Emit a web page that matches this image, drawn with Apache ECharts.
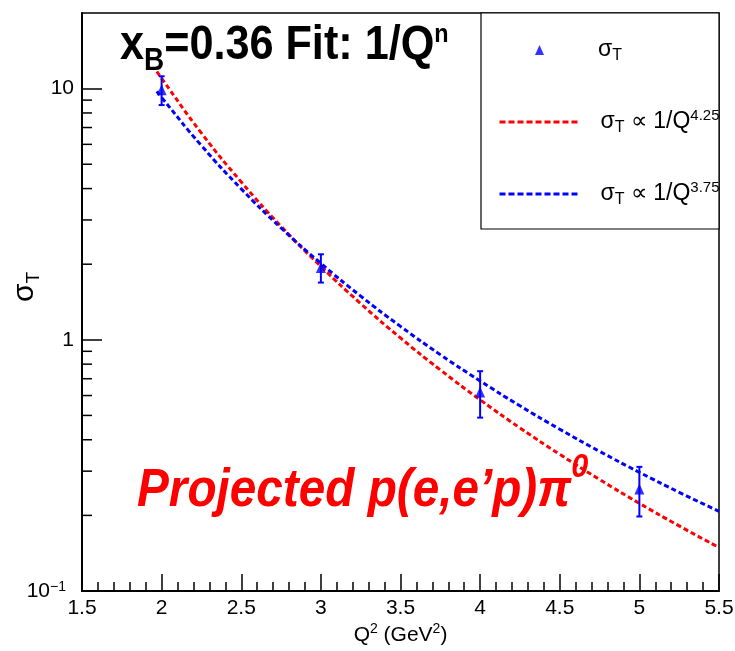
<!DOCTYPE html>
<html><head><meta charset="utf-8">
<script src="https://cdn.jsdelivr.net/npm/echarts@6/dist/echarts.min.js"></script>
<style>html,body{margin:0;padding:0;background:#fff}#c{width:735px;height:651px}</style>
</head><body><div id="c"></div>
<script>
// Data points (Q^2 in GeV^2, sigma_T)
const Q2 = [2, 3, 4, 5];
const sigmaT = [9.9, 1.94, 0.62, 0.255];
const sigmaErr = [1.3, 0.25, 0.13, 0.057];
// Fit curves
const fitQ2 = [1.97, 2.0, 2.25, 2.5, 2.75, 3.0, 3.25, 3.5, 3.75, 4.0, 4.25, 4.5, 4.75, 5.0, 5.25, 5.5];
const fitN425 = [11.7, 10.98, 6.65, 4.25, 2.83, 1.96, 1.394, 1.017, 0.759, 0.577, 0.446, 0.350, 0.278, 0.2234, 0.1816, 0.149];
const fitN375 = [9.76, 9.22, 5.93, 3.99, 2.79, 2.015, 1.493, 1.131, 0.873, 0.686, 0.546, 0.4406, 0.3597, 0.2968, 0.2471, 0.2076];
// Axis tick values
const yMinorTicks = [0.2, 0.3, 0.4, 0.5, 0.6, 0.7, 0.8, 0.9, 2, 3, 4, 5, 6, 7, 8, 9];
const legendLabels = {
  sigT: '{s0|σ}{sub|T}',
  fit425: '{s0|σ}{sub|T}{s| ∝ 1/Q}{sup|4.25}',
  fit375: '{s0|σ}{sub|T}{s| ∝ 1/Q}{sup|3.75}'
};
const titleText = '{b|x}{sub|B}{b|=0.36 Fit: 1/Q}{sup|n}';
const noteText = '{m|Projected p(e,e’p)π}{sup|0}';

const FONT = 'Liberation Sans, Arial, Helvetica, sans-serif';
const chart = echarts.init(document.getElementById('c'), null, {renderer: 'canvas'});

const legendRich = (padLeft) => ({
  s0: {fontSize: 23, fontFamily: FONT, color: '#000', lineHeight: 28, padding: [0, 0, 0, padLeft]},
  s: {fontSize: 23, fontFamily: FONT, color: '#000', lineHeight: 28},
  sub: {fontSize: 16, fontFamily: FONT, color: '#000', lineHeight: 16, padding: [12, 0, 0, 0], verticalAlign: 'top'},
  sup: {fontSize: 15, fontFamily: FONT, color: '#000', lineHeight: 10, verticalAlign: 'top'}
});

const option = {
  animation: false,
  backgroundColor: '#fff',
  grid: {left: 82, right: 16, top: 13, bottom: 60, show: true, borderColor: '#000', borderWidth: 1.5,
         backgroundColor: 'transparent', containLabel: false, outerBoundsMode: 'none'},
  xAxis: {
    type: 'value', min: 1.5, max: 5.5, interval: 0.5,
    axisLine: {show: true, onZero: false, lineStyle: {color: '#000', width: 2}},
    axisTick: {show: true, inside: true, length: 17, lineStyle: {color: '#000', width: 1.5}},
    minorTick: {show: true, splitNumber: 5, length: 9, lineStyle: {color: '#000', width: 1.5}},
    splitLine: {show: false},
    axisLabel: {color: '#000', fontSize: 21, margin: 7, fontFamily: FONT, showMinLabel: true, showMaxLabel: true,
                formatter: v => String(v)},
    name: '{a|Q}{s|2}{a| (GeV}{s|2}{a|)}', nameLocation: 'middle', nameGap: 31, nameMoveOverlap: false,
    nameTextStyle: {rich: {
      a: {fontSize: 21, fontFamily: FONT, color: '#000', lineHeight: 24, verticalAlign: 'bottom'},
      s: {fontSize: 14, fontFamily: FONT, color: '#000', lineHeight: 14, verticalAlign: 'top'}
    }}
  },
  yAxis: {
    type: 'log', logBase: 10, min: 0.1, max: 20,
    axisLine: {show: true, onZero: false, lineStyle: {color: '#000', width: 2}},
    axisTick: {show: true, inside: true, length: 20, lineStyle: {color: '#000', width: 1.5}},
    minorTick: {show: false}, splitLine: {show: false},
    axisLabel: {color: '#000', fontSize: 21, margin: 8, fontFamily: FONT, showMaxLabel: false,
      formatter: v => {
        const e = Math.round(Math.log10(v));
        if (e === 0) return '1';
        if (e === 1) return '10';
        if (e === -1) return '{a|10}{b|−1}{p| }';
        return '';
      },
      rich: {
        a: {fontSize: 21, fontFamily: FONT, color: '#000', lineHeight: 22, verticalAlign: 'bottom'},
        b: {fontSize: 14, fontFamily: FONT, color: '#000', lineHeight: 14, verticalAlign: 'top'},
        p: {fontSize: 8, width: 8}
      }
    },
    name: '{s|σ}{sub|T}', nameLocation: 'middle', nameRotate: 90, nameGap: 42, nameMoveOverlap: false,
    nameTextStyle: {padding: [0, 0, 0, 30], rich: {
      s: {fontSize: 30, fontFamily: FONT, color: '#000', lineHeight: 30, verticalAlign: 'top'},
      sub: {fontSize: 19, fontFamily: FONT, color: '#000', lineHeight: 18, padding: [14, 0, 0, 0], verticalAlign: 'top'}
    }}
  },
  legend: [
    {
      orient: 'vertical', left: 530, top: 31, itemWidth: 9, itemHeight: 10,
      data: [{name: 'sigT', icon: 'triangle'}], selectedMode: false,
      formatter: n => legendLabels[n], textStyle: {rich: legendRich(49)}
    },
    {
      orient: 'vertical', left: 493, top: 103, itemWidth: 80, itemHeight: 11, itemGap: 44,
      data: [
        {name: 'fit425', itemStyle: {opacity: 0}, lineStyle: {width: 3, type: [6, 3]}},
        {name: 'fit375', itemStyle: {opacity: 0}, lineStyle: {width: 3, type: [6, 3]}}
      ],
      selectedMode: false,
      formatter: n => legendLabels[n], textStyle: {rich: legendRich(16)}
    }
  ],
  graphic: [
    {type: 'rect', shape: {x: 481, y: 13, width: 238, height: 216}, style: {fill: '#fff', stroke: '#000', lineWidth: 1.2}, z: 1},
    {type: 'text', x: 120, y: 22, scaleX: 0.9, z: 10, style: {text: titleText, textAlign: 'left', textVerticalAlign: 'top', rich: {
      b: {fontSize: 48, fontWeight: 'bold', fontFamily: FONT, fill: '#000', lineHeight: 50, verticalAlign: 'top'},
      sub: {fontSize: 31, fontWeight: 'bold', fontFamily: FONT, fill: '#000', lineHeight: 31, padding: [24, 0, 0, 0], verticalAlign: 'top'},
      sup: {fontSize: 26, fontWeight: 'bold', fontFamily: FONT, fill: '#000', lineHeight: 20, verticalAlign: 'top'}
    }}},
    {type: 'text', x: 137, y: 451, scaleX: 0.9, z: 10, style: {text: noteText, textAlign: 'left', textVerticalAlign: 'top', rich: {
      m: {fontSize: 53, fontWeight: 'bold', fontStyle: 'italic', fontFamily: FONT, fill: '#ff0000', lineHeight: 56, padding: [14, 0, 0, 0], verticalAlign: 'top'},
      sup: {fontSize: 34, fontWeight: 'bold', fontStyle: 'italic', fontFamily: FONT, fill: '#ff0000', lineHeight: 40, verticalAlign: 'top'}
    }}}
  ],
  series: [
    {type: 'line', name: 'fit425', data: fitQ2.map((x, i) => [x, fitN425[i]]), smooth: true, symbol: 'none', showSymbol: false,
     lineStyle: {color: '#ff0000', width: 3, type: [5, 3]}, itemStyle: {color: '#ff0000'}, z: 2},
    {type: 'line', name: 'fit375', data: fitQ2.map((x, i) => [x, fitN375[i]]), smooth: true, symbol: 'none', showSymbol: false,
     lineStyle: {color: '#0000ff', width: 3, type: [5, 3]}, itemStyle: {color: '#0000ff'}, z: 2},
    {type: 'custom', name: 'err', data: Q2.map((x, i) => [x, sigmaT[i], sigmaErr[i]]), encode: {x: 0, y: 1}, z: 3, silent: true,
     renderItem: (p, api) => {
       const x = api.value(0), y = api.value(1), e = api.value(2);
       const t = api.coord([x, y + e]), b = api.coord([x, y - e]);
       const c = 3, st = {stroke: '#0000ff', lineWidth: 2};
       return {type: 'group', children: [
         {type: 'line', shape: {x1: t[0], y1: t[1], x2: b[0], y2: b[1]}, style: st},
         {type: 'line', shape: {x1: t[0] - c, y1: t[1], x2: t[0] + c, y2: t[1]}, style: st},
         {type: 'line', shape: {x1: b[0] - c, y1: b[1], x2: b[0] + c, y2: b[1]}, style: st}
       ]};
     }},
    {type: 'scatter', name: 'sigT', data: Q2.map((x, i) => [x, sigmaT[i]]), symbol: 'triangle', symbolSize: [10, 11],
     itemStyle: {color: '#0000ff'}, z: 4},
    {type: 'custom', name: 'yminor', data: yMinorTicks.map(v => [1.5, v]), encode: {x: 0, y: 1}, z: 5, silent: true,
     renderItem: (p, api) => {
       const pt = api.coord([api.value(0), api.value(1)]);
       return {type: 'line', shape: {x1: pt[0], y1: pt[1], x2: pt[0] + 10, y2: pt[1]}, style: {stroke: '#000', lineWidth: 1.5}};
     }}
  ]
};
chart.setOption(option);
</script></body></html>
